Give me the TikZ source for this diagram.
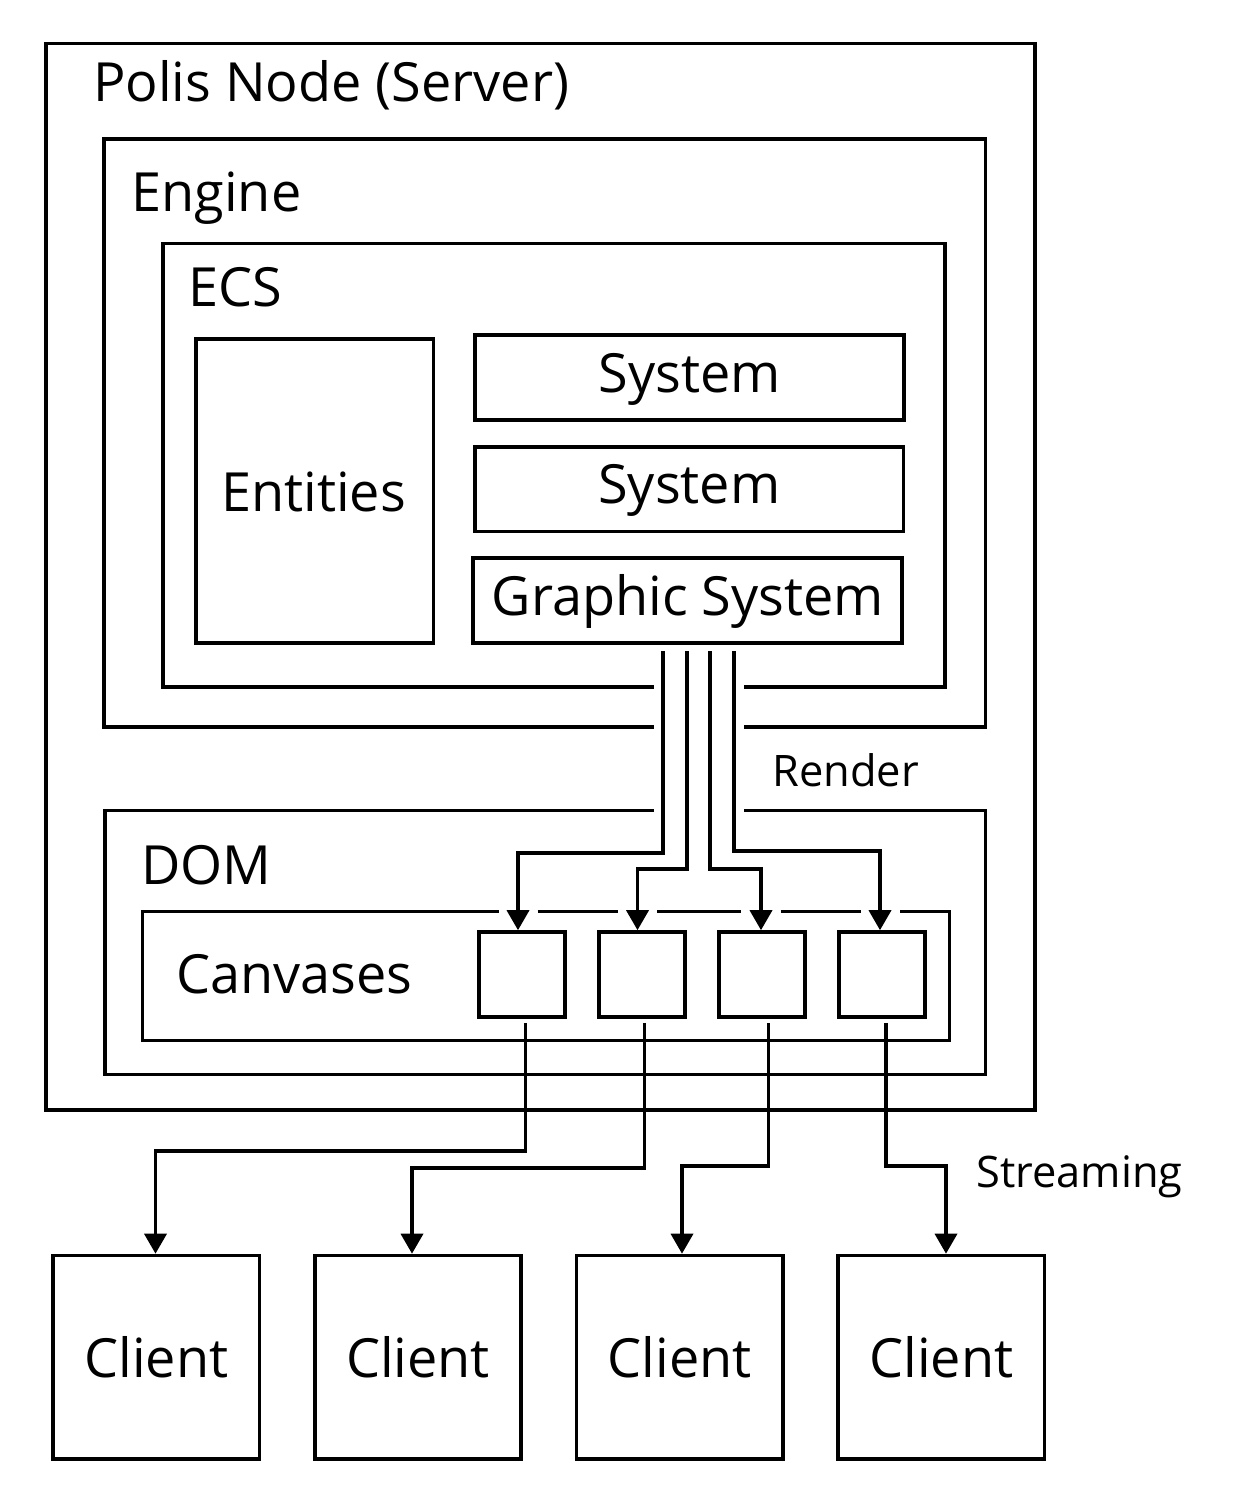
\documentclass[tikz,border=0pt]{standalone}
\usepackage{fontspec}
\setmainfont{Open Sans}
\usetikzlibrary{arrows.meta,calc}
\begin{document}
\begin{tikzpicture}[x=0.5pt,y=-0.5pt,
  line width=1.8pt,
  area/.style={inner sep=0pt, outer sep=0pt},
  frame/.style={draw, inner sep=0pt, outer sep=0pt},
  leaf/.style={draw, inner sep=0pt},
  big/.style={font=\fontsize{27}{32}\selectfont, inner sep=0pt, outer sep=0pt},
  small/.style={font=\fontsize{21.7}{26}\selectfont, inner sep=0pt, outer sep=0pt},
  arr/.style={-{Triangle[length=10pt,width=11pt]}},
]
\useasboundingbox (0,0) rectangle (1254,1504);

% containers
\node[frame, minimum width=494.5pt, minimum height=533.25pt] (polis) at (540.5,576.75) {};
\node[area, minimum width=440.75pt, minimum height=294pt] (engine) at (544.75,433) {};
\node[area, minimum width=391pt, minimum height=221.75pt] (ecs) at (554,465.25) {};
\node[area, minimum width=440.25pt, minimum height=132pt] (dom) at (545.25,942.5) {};
\node[area, minimum width=403.5pt, minimum height=64.5pt] (canv) at (546,976) {};

\coordinate (gapL) at (654,0);
\coordinate (gapR) at (744,0);

\draw (engine.south -| gapL) -- (engine.south west) -- (engine.north west) -- (engine.north east) -- (engine.south east) -- (engine.south -| gapR);
\draw (ecs.south -| gapL) -- (ecs.south west) -- (ecs.north west) -- (ecs.north east) -- (ecs.south east) -- (ecs.south -| gapR);
\draw (dom.north -| gapL) -- (dom.north west) -- (dom.south west) -- (dom.south east) -- (dom.north east) -- (dom.north -| gapR);
\draw (canv.north -| 498.5,0) -- (canv.north west) -- (canv.south west) -- (canv.south east) -- (canv.north east) -- (canv.north -| 900,0);
\draw (canv.north -| 537.5,0) -- (canv.north -| 618,0);
\draw (canv.north -| 657,0) -- (canv.north -| 741,0);
\draw (canv.north -| 780.5,0) -- (canv.north -| 860.5,0);

% titles
\node[big, anchor=base west] (tpolis) at (93,102) {Polis Node (Server)};
\node[big, anchor=base west] (tengine) at (131.5,211.5) {Engine};
\node[big, anchor=base west] (tecs) at (188,306.5) {ECS};
\node[big, anchor=base west] (tdom) at (141,884) {DOM};
\node[big, anchor=base west] (tcanv) at (176,993) {Canvases};

% ECS content
\node[frame, minimum width=118.75pt, minimum height=152pt] (ent) at (314.75,491) {};
\node[big, anchor=base] (tent) at (313.5,511) {Entities};
\node[frame, minimum width=214.5pt, minimum height=42.5pt] (sys1) at (689.5,377.5) {};
\node[big, anchor=base] (tsys1) at (689.5,392) {System};
\node[frame, minimum width=214.25pt, minimum height=42.25pt] (sys2) at (689.25,489.25) {};
\node[big, anchor=base] (tsys2) at (689.25,503) {System};
\node[frame, minimum width=214.5pt, minimum height=42.5pt] (gsys) at (687.5,600.5) {};
\node[big, anchor=base] (tgsys) at (688,615) {Graphic System};

% canvases
\foreach \i/\cx in {1/522,2/642,3/762,4/882}{
  \node[leaf, minimum width=43pt, minimum height=42.5pt] (cv\i) at (\cx,974.5) {};
}

% clients
\foreach \i/\cx in {1/156.25,2/418,3/679.75,4/941.25}{
  \node[leaf, minimum width=103.25pt, minimum height=101.75pt] (cl\i) at (\cx,1357.25) {};
  \node[big, anchor=base] (tcl\i) at (\cx,1377) {Client};
}

% render connectors
\draw[arr] ($(gsys.south)+(-24.5,8)$) |- (518,853) -- (cv1.north -| 518,0);
\draw[arr] ($(gsys.south)+(-0.5,8)$) |- (637.5,869) -- (cv2.north -| 637.5,0);
\draw[arr] ($(gsys.south)+(22.5,8)$) |- (761,869) -- (cv3.north -| 761,0);
\draw[arr] ($(gsys.south)+(46.5,8)$) |- (880,851) -- (cv4.north -| 880,0);
\node[small, anchor=base west] (trender) at (772.5,786) {Render};

% streaming connectors
\draw[arr] ($(cv1.south)+(3.5,4)$) |- (155.5,1151) -- (cl1.north -| 155.5,0);
\draw[arr] ($(cv2.south)+(2.5,4)$) |- (412,1168) -- (cl2.north -| 412,0);
\draw[arr] ($(cv3.south)+(6.5,4)$) |- (682,1166) -- (cl3.north -| 682,0);
\draw[arr] ($(cv4.south)+(4,4)$) |- (946,1166) -- (cl4.north -| 946,0);
\node[small, anchor=base west] (tstream) at (976.5,1187) {Streaming};
\end{tikzpicture}
\end{document}
